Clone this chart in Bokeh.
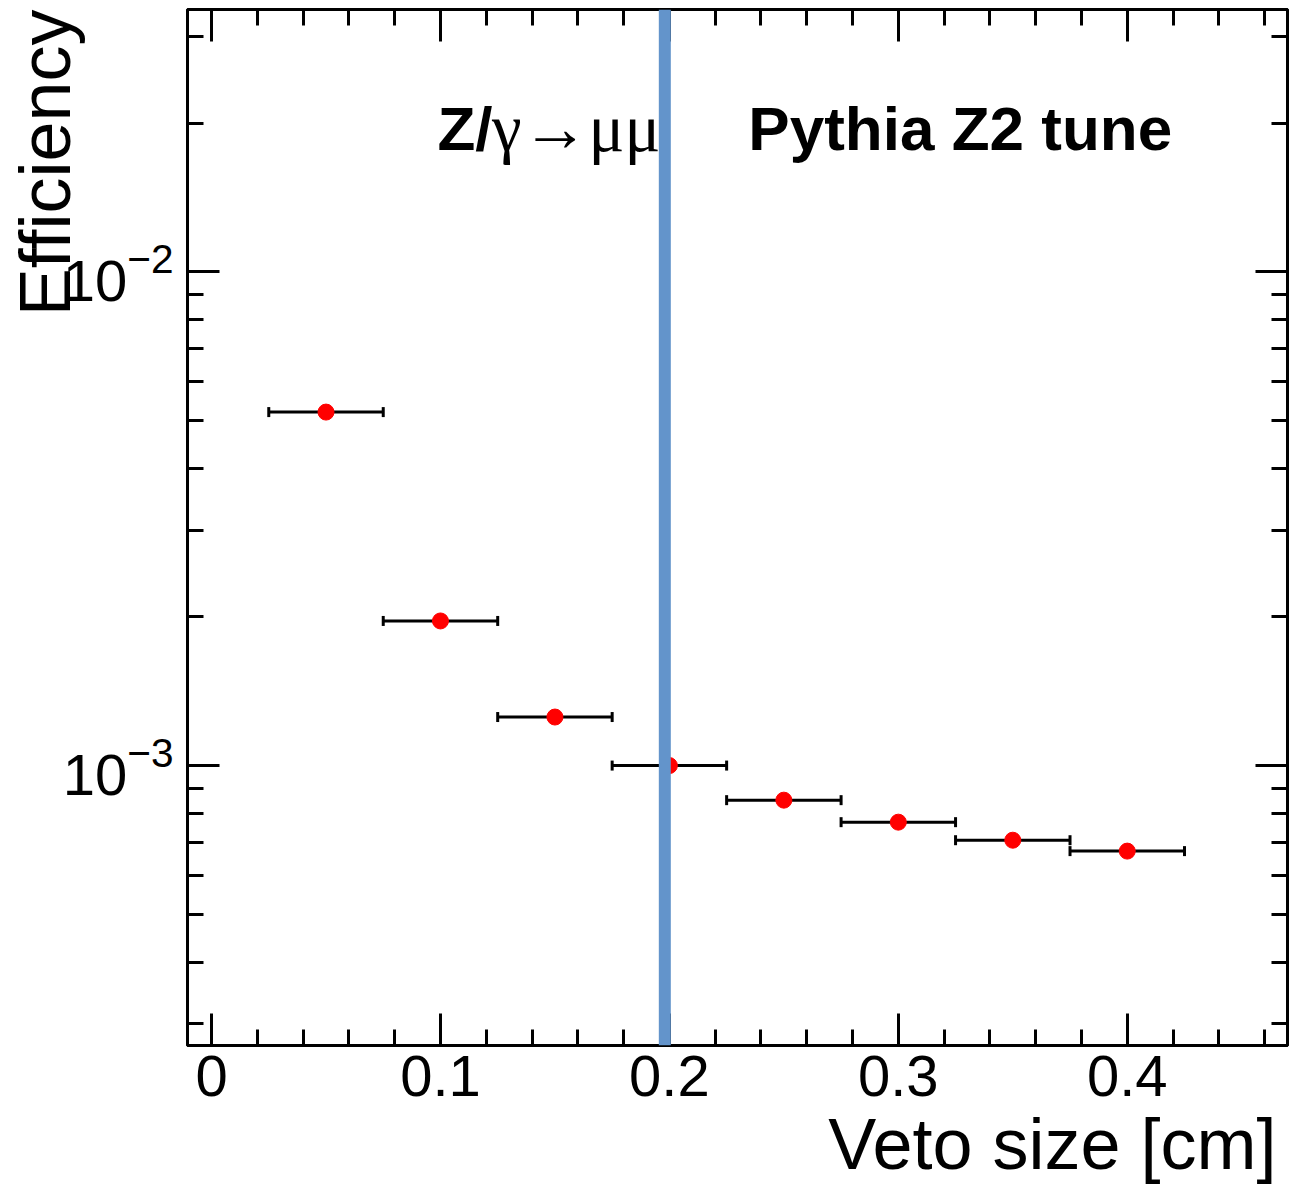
from bokeh.plotting import figure
from bokeh.models import (Range1d, Whisker, TeeHead, ColumnDataSource, Span, Label,
                          LinearAxis, LogAxis, FixedTicker, SingleIntervalTicker,
                          CustomJSTickFormatter, Title)
from bokeh.embed import file_html
from bokeh.resources import INLINE

# ---------------- data ----------------
veto_size = [0.05, 0.10, 0.15, 0.20, 0.25, 0.30, 0.35, 0.40]
efficiency = [5.20e-3, 1.963e-3, 1.254e-3, 1.0e-3, 8.51e-4, 7.68e-4, 7.06e-4, 6.71e-4]
bin_half_width = [0.025, 0.025, 0.025, 0.025, 0.025, 0.025, 0.025, 0.025]
cut_position = 0.198

x_tick_labels = {0: "0", 0.1: "0.1", 0.2: "0.2", 0.3: "0.3", 0.4: "0.4"}
y_major_ticks = [1e-3, 1e-2]
y_minor_ticks = [3e-4, 4e-4, 5e-4, 6e-4, 7e-4, 8e-4, 9e-4,
                 2e-3, 3e-3, 4e-3, 5e-3, 6e-3, 7e-3, 8e-3, 9e-3,
                 2e-2, 3e-2]
x_label = "Veto size [cm]"
y_label = "Efficiency"
process_text = "Z/"
process_symbols = "\u03b3\u2192\u03bc\u03bc"
tune_text = "Pythia Z2 tune"

FONT = "Liberation Sans"

src = ColumnDataSource(dict(
    x=veto_size,
    y=efficiency,
    lo=[a - b for a, b in zip(veto_size, bin_half_width)],
    hi=[a + b for a, b in zip(veto_size, bin_half_width)],
))

p = figure(width=1290, height=1192, y_axis_type="log",
           x_range=Range1d(-0.0105, 0.47), y_range=Range1d(2.71e-4, 3.40e-2),
           output_backend="svg", toolbar_location=None,
           min_border_left=187, min_border_bottom=147,
           min_border_top=9, min_border_right=3)
p.grid.visible = False
p.outline_line_color = "black"
p.outline_line_width = 3
p.background_fill_color = "white"
p.border_fill_color = "white"


def style_axis(ax, show_labels):
    ax.axis_line_color = "black"
    ax.axis_line_width = 3
    ax.major_tick_in = 32
    ax.major_tick_out = 0
    ax.minor_tick_in = 16
    ax.minor_tick_out = 0
    ax.major_tick_line_color = "black"
    ax.minor_tick_line_color = "black"
    ax.major_tick_line_width = 3
    ax.minor_tick_line_width = 3
    if show_labels:
        ax.major_label_text_font = FONT
        ax.major_label_text_font_size = "58px"
        ax.major_label_text_color = "black"
    else:
        ax.formatter = CustomJSTickFormatter(code="return ''")
        ax.major_label_text_font_size = "1px"
        ax.major_label_standoff = 0


xaxis = p.xaxis[0]
xaxis.ticker = SingleIntervalTicker(interval=0.1, num_minor_ticks=5)
xaxis.major_label_overrides = x_tick_labels
style_axis(xaxis, True)
xaxis.major_label_standoff = 10

yaxis = p.yaxis[0]
yaxis.ticker = FixedTicker(ticks=y_major_ticks, minor_ticks=y_minor_ticks)
style_axis(yaxis, True)
yaxis.major_label_standoff = 14

top_axis = LinearAxis(ticker=SingleIntervalTicker(interval=0.1, num_minor_ticks=5))
style_axis(top_axis, False)
p.add_layout(top_axis, "above")

right_axis = LogAxis(ticker=FixedTicker(ticks=y_major_ticks, minor_ticks=y_minor_ticks))
style_axis(right_axis, False)
p.add_layout(right_axis, "right")

# axis titles (right/top aligned, as in the reference)
p.add_layout(Title(text=x_label, align="right", vertical_align="bottom",
                   offset=11, standoff=6, text_font=FONT, text_font_size="72px",
                   text_font_style="normal", text_color="black"), "below")
p.add_layout(Title(text=y_label, align="right", vertical_align="bottom",
                   offset=0, standoff=-50, text_font=FONT, text_font_size="72px",
                   text_font_style="normal", text_color="black"), "left")

# error bars
whisk = Whisker(source=src, base="y", lower="lo", upper="hi", dimension="width",
                line_color="black", line_width=3,
                lower_head=TeeHead(size=10, line_width=3, line_color="black"),
                upper_head=TeeHead(size=10, line_width=3, line_color="black"))
p.add_layout(whisk)

p.scatter("x", "y", source=src, size=16, fill_color="red", line_color="red",
          marker="circle")

# cut line
p.add_layout(Span(location=cut_position, dimension="height", line_color="#6394CB",
                  line_width=12, level="overlay"))

# texts
p.add_layout(Label(x=0.0987, y=0.01953, text=process_text, text_font=FONT,
                   text_font_style="bold", text_font_size="62px", text_color="black",
                   text_baseline="alphabetic"))
p.add_layout(Label(x=0.1225, y=0.01953, text=process_symbols,
                   text_font="Liberation Serif",
                   text_font_size="67px", text_color="black",
                   text_baseline="alphabetic"))
p.add_layout(Label(x=0.2345, y=0.01953, text=tune_text, text_font=FONT,
                   text_font_style="bold", text_font_size="62px", text_color="black",
                   text_baseline="alphabetic"))

open("out.html", "w").write(file_html(p, INLINE))
